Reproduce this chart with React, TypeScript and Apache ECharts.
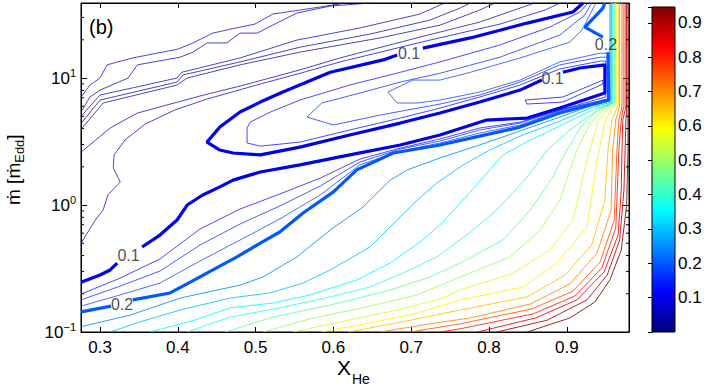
import React, { useEffect, useRef } from "react";
import * as echarts from "echarts";

// ---------- axes ----------
const X_MIN = 0.2755;
const X_MAX = 0.98;
const Y_MIN = 0.1;
const Y_MAX = 39;
const C_MAX = 0.946;
const xTickValues = [0.3, 0.4, 0.5, 0.6, 0.7, 0.8, 0.9];
const yMinorTicks = [0.2, 0.3, 0.4, 0.5, 0.6, 0.7, 0.8, 0.9, 2, 3, 4, 5, 6, 7, 8, 9, 20, 30];
const colorbarTicks = [0.1, 0.2, 0.3, 0.4, 0.5, 0.6, 0.7, 0.8, 0.9];

// ---------- contour lines: [X_He, mdot] ----------
const c010a = [[0.2756, 0.247], [0.3, 0.281], [0.313, 0.308], [0.322, 0.349]];
const c010b = [[0.354, 0.467], [0.377, 0.58], [0.399, 0.762], [0.412, 1.0], [0.432, 1.2], [0.454, 1.39], [0.471, 1.57], [0.506, 1.82], [0.557, 2.07], [0.621, 2.48], [0.686, 2.97], [0.737, 3.56], [0.797, 4.67], [0.849, 4.84], [0.891, 5.8], [0.949, 7.62], [0.949, 12.7], [0.917, 12.0], [0.895, 11.1]];
const c010c = [[0.868, 9.64], [0.84, 8.04], [0.788, 6.47], [0.737, 5.3], [0.686, 4.42], [0.621, 3.56], [0.557, 2.86], [0.506, 2.48], [0.471, 2.57], [0.454, 2.71], [0.4375, 3.13], [0.454, 4.11], [0.48, 5.4], [0.506, 6.47], [0.535, 7.76], [0.596, 11.1], [0.664, 13.9], [0.682, 15.2]];
const c010d = [[0.715, 17.2], [0.776, 20.7], [0.849, 27.1], [0.908, 33.1], [0.921, 39]];
const c0125 = [[0.927, 39], [0.917, 33.1], [0.878, 25.2], [0.814, 18.2], [0.737, 13.4], [0.686, 11.1], [0.621, 8.81], [0.557, 6.71], [0.519, 5.4], [0.493, 4.5], [0.489, 4.04], [0.489, 3.08], [0.506, 2.91], [0.557, 3.13], [0.621, 3.9], [0.686, 4.84], [0.737, 5.8], [0.788, 7.09], [0.84, 8.81], [0.891, 11.8], [0.943, 13.6], [0.95, 13.6], [0.95, 7.09], [0.891, 5.6], [0.84, 4.5], [0.788, 4.04], [0.737, 3.31], [0.686, 2.81], [0.634, 2.3], [0.583, 1.63], [0.531, 1.22], [0.48, 0.93], [0.4285, 0.647], [0.377, 0.376], [0.326, 0.266], [0.2756, 0.199]];
const c0150 = [[0.932, 39], [0.923, 31.3], [0.891, 21.8], [0.814, 14.6], [0.737, 10.9], [0.686, 9.3], [0.634, 7.62], [0.585, 6.36], [0.566, 4.93], [0.6, 4.27], [0.66, 5.11], [0.737, 6.24], [0.788, 7.35], [0.84, 9.3], [0.891, 12.7], [0.943, 14.6], [0.952, 14.6], [0.952, 6.83], [0.891, 5.6], [0.84, 4.42], [0.788, 3.9], [0.737, 3.19], [0.686, 2.76], [0.634, 2.18], [0.583, 1.41], [0.531, 0.982], [0.48, 0.709], [0.4285, 0.484], [0.377, 0.302], [0.326, 0.23], [0.2756, 0.179]];
const c0175 = [[0.9375, 39], [0.9195, 23.9], [0.904, 19.2], [0.84, 14.4], [0.776, 11.1], [0.737, 9.64], [0.702, 9.64], [0.686, 8.65], [0.67, 7.76], [0.682, 6.36], [0.7075, 6.36], [0.737, 6.71], [0.788, 7.76], [0.84, 9.64], [0.891, 13.4], [0.943, 15.7], [0.953, 15.7], [0.953, 6.83], [0.891, 5.5], [0.84, 4.27], [0.788, 3.69], [0.737, 3.08], [0.686, 2.66], [0.634, 2.07], [0.583, 1.2], [0.531, 0.776], [0.48, 0.53], [0.4285, 0.362], [0.377, 0.243], [0.326, 0.196], [0.2756, 0.16]];
const c020a = [[0.2756, 0.144], [0.314, 0.16]];
const c020b = [[0.342, 0.179], [0.39, 0.203], [0.416, 0.247], [0.445, 0.308], [0.476, 0.39], [0.506, 0.502], [0.531, 0.613], [0.561, 0.865], [0.6, 1.27], [0.63, 1.89], [0.677, 2.57], [0.737, 2.97], [0.788, 3.49], [0.84, 4.11], [0.891, 5.3], [0.93, 6.13], [0.954, 6.71], [0.953, 16.0]];
const c020c = [[0.9465, 21.0], [0.9234, 25.2], [0.9465, 35.6], [0.949, 39]];
const c025 = [[0.2756, 0.11], [0.339, 0.136], [0.403, 0.185], [0.48, 0.234], [0.5095, 0.271], [0.553, 0.39], [0.596, 0.636], [0.638, 0.964], [0.673, 1.57], [0.695, 1.89], [0.737, 2.35], [0.788, 2.97], [0.84, 3.83], [0.891, 4.93], [0.93, 6.02], [0.9555, 6.59], [0.9555, 39]];
const c030 = [[0.313, 0.1], [0.351, 0.12], [0.403, 0.149], [0.467, 0.185], [0.5185, 0.203], [0.561, 0.243], [0.596, 0.308], [0.647, 0.467], [0.682, 0.762], [0.7075, 1.09], [0.733, 1.49], [0.767, 2.07], [0.801, 2.71], [0.84, 3.49], [0.891, 4.58], [0.93, 5.8], [0.957, 6.47], [0.957, 39]];
const c035 = [[0.364, 0.1], [0.422, 0.124], [0.467, 0.155], [0.522, 0.169], [0.57, 0.196], [0.63, 0.257], [0.673, 0.349], [0.715, 0.53], [0.741, 0.735], [0.776, 1.27], [0.818, 2.48], [0.853, 3.25], [0.891, 4.19], [0.93, 5.5], [0.958, 6.36], [0.958, 39]];
const c040 = [[0.412, 0.1], [0.467, 0.131], [0.531, 0.155], [0.596, 0.189], [0.647, 0.226], [0.6895, 0.291], [0.733, 0.39], [0.776, 0.613], [0.81, 0.913], [0.849, 1.66], [0.875, 2.71], [0.904, 3.9], [0.936, 5.4], [0.959, 6.36], [0.959, 39]];
const c045 = [[0.461, 0.1], [0.522, 0.131], [0.596, 0.163], [0.673, 0.214], [0.724, 0.271], [0.763, 0.349], [0.818, 0.53], [0.853, 0.913], [0.882, 1.66], [0.9, 2.71], [0.9195, 4.27], [0.943, 5.8], [0.961, 6.47], [0.961, 39]];
const c050 = [[0.5095, 0.1], [0.574, 0.129], [0.638, 0.155], [0.7075, 0.196], [0.763, 0.271], [0.827, 0.39], [0.866, 0.636], [0.891, 1.09], [0.913, 2.71], [0.93, 4.42], [0.949, 5.8], [0.962, 6.47], [0.962, 39]];
const c055 = [[0.548, 0.1], [0.6085, 0.12], [0.682, 0.149], [0.741, 0.185], [0.763, 0.214], [0.831, 0.291], [0.878, 0.442], [0.908, 0.762], [0.926, 2.26], [0.94, 4.5], [0.953, 5.8], [0.963, 6.36], [0.963, 39]];
const c060 = [[0.585, 0.1], [0.647, 0.118], [0.7075, 0.141], [0.763, 0.179], [0.844, 0.226], [0.887, 0.349], [0.926, 0.671], [0.939, 2.26], [0.949, 4.5], [0.958, 5.8], [0.9645, 6.24], [0.9645, 39]];
const c065 = [[0.619, 0.1], [0.682, 0.118], [0.763, 0.149], [0.849, 0.189], [0.898, 0.281], [0.932, 0.484], [0.949, 1.09], [0.953, 2.71], [0.958, 4.67], [0.9645, 5.8], [0.967, 6.13], [0.967, 39]];
const c070 = [[0.66, 0.1], [0.724, 0.116], [0.776, 0.129], [0.853, 0.166], [0.904, 0.239], [0.939, 0.419], [0.957, 0.913], [0.959, 2.71], [0.963, 4.67], [0.967, 5.7], [0.968, 6.02], [0.968, 39]];
const c075 = [[0.6985, 0.1], [0.763, 0.116], [0.855, 0.152], [0.908, 0.21], [0.943, 0.356], [0.961, 0.762], [0.9645, 2.71], [0.967, 4.67], [0.97, 5.6], [0.971, 6.02], [0.971, 39]];
const c080 = [[0.737, 0.1], [0.763, 0.106], [0.857, 0.139], [0.9105, 0.192], [0.945, 0.319], [0.963, 0.659], [0.967, 2.71], [0.97, 4.67], [0.972, 5.6], [0.9735, 5.91], [0.9735, 39]];
const c085 = [[0.785, 0.1], [0.86, 0.129], [0.913, 0.179], [0.948, 0.297], [0.966, 0.58], [0.97, 1.31], [0.971, 2.71], [0.972, 4.67], [0.975, 5.6], [0.976, 5.91], [0.976, 39]];
const c090 = [[0.81, 0.1], [0.875, 0.124], [0.926, 0.179], [0.952, 0.281], [0.968, 0.53], [0.9735, 1.31], [0.975, 2.71], [0.976, 4.67], [0.977, 5.6], [0.977, 39]];
const c095 = [[0.849, 0.1], [0.904, 0.129], [0.936, 0.172], [0.9555, 0.257], [0.97, 0.442], [0.977, 1.0], [0.9787, 2.71], [0.9787, 39]];
// low-value contours in the upper left
const c0075loop = [[0.8463, 6.71], [0.8951, 7.09], [0.9465, 9.64], [0.9465, 8.97], [0.8951, 6.47], [0.8488, 6.24], [0.8463, 6.71]];
const cA = [[0.2756, 7.09], [0.287, 8.81], [0.3, 10], [0.309, 12.7], [0.342, 14.4], [0.4, 16.9], [0.4195, 18.9], [0.445, 22.6], [0.48, 25.2], [0.499, 26.6], [0.522, 31.9], [0.6, 37.6], [0.615, 39]];
const cB = [[0.277, 5.6], [0.287, 7.09], [0.3, 8.04], [0.336, 10], [0.348, 12.7], [0.403, 14.6], [0.4195, 16.0], [0.4375, 18.9], [0.463, 18.9], [0.48, 22.6], [0.502, 22.6], [0.522, 26.1], [0.553, 32.5], [0.596, 36.9], [0.647, 39]];
const cC = [[0.277, 5.11], [0.3, 7.35], [0.399, 10], [0.405, 11.1], [0.48, 14.4], [0.553, 19.9], [0.634, 24.8], [0.711, 31.9], [0.743, 39]];
const cD = [[0.277, 4.5], [0.3, 6.71], [0.399, 9.3], [0.407, 10.6], [0.48, 13.4], [0.557, 17.5], [0.647, 22.2], [0.724, 28.6], [0.763, 35.6], [0.776, 39]];
const cE = [[0.277, 4.04], [0.304, 6.36], [0.399, 8.81], [0.412, 10], [0.48, 12.7], [0.557, 16.0], [0.66, 20.7], [0.737, 26.1], [0.788, 34.3], [0.808, 39]];
const cF = [[0.2756, 2.61], [0.313, 4.04], [0.348, 5.3], [0.4285, 7.22], [0.48, 8.65], [0.557, 11.6], [0.6085, 14.4], [0.711, 21.0], [0.788, 27.6], [0.84, 35.6], [0.859, 39]];
const cG = [[0.2756, 0.502], [0.294, 0.762], [0.304, 0.913], [0.31, 1.2], [0.326, 1.52], [0.317, 1.96], [0.318, 2.48], [0.332, 3.25], [0.358, 4.34], [0.396, 5.6], [0.4375, 6.83], [0.506, 8.97], [0.557, 10.9], [0.6085, 13.4], [0.724, 19.9], [0.814, 26.6], [0.872, 34.3], [0.891, 39]];

// contour label positions [X_He, mdot, level]
const contourLabels = [[0.3366, 0.4, 0.1], [0.6972, 15.7, 0.1], [0.8817, 9.9, 0.1], [0.3283, 0.166, 0.2], [0.9504, 18.4, 0.2]];

const contourLines = [
  { level: 0.025, pts: cD }, { level: 0.025, pts: cE },
  { level: 0.05, pts: cB }, { level: 0.05, pts: cC }, { level: 0.05, pts: cF },
  { level: 0.075, pts: cA }, { level: 0.075, pts: cG }, { level: 0.075, pts: c0075loop },
  { level: 0.95, pts: c095 }, { level: 0.9, pts: c090 }, { level: 0.85, pts: c085 },
  { level: 0.8, pts: c080 }, { level: 0.75, pts: c075 }, { level: 0.7, pts: c070 },
  { level: 0.65, pts: c065 }, { level: 0.6, pts: c060 }, { level: 0.55, pts: c055 },
  { level: 0.5, pts: c050 }, { level: 0.45, pts: c045 }, { level: 0.4, pts: c040 },
  { level: 0.35, pts: c035 }, { level: 0.3, pts: c030 }, { level: 0.25, pts: c025 },
  { level: 0.175, pts: c0175 }, { level: 0.15, pts: c0150 }, { level: 0.125, pts: c0125 },
  { level: 0.2, pts: c020a, thick: true }, { level: 0.2, pts: c020b, thick: true }, { level: 0.2, pts: c020c, thick: true },
  { level: 0.1, pts: c010a, thick: true }, { level: 0.1, pts: c010b, thick: true },
  { level: 0.1, pts: c010c, thick: true }, { level: 0.1, pts: c010d, thick: true },
];

const FONT = "'Liberation Sans', Arial, Helvetica, sans-serif";

function clamp01(v: number) {
  return Math.max(0, Math.min(1, v));
}
function jet(t: number) {
  const x = clamp01(t);
  const r = clamp01(Math.min(4 * x - 1.5, -4 * x + 4.5));
  const g = clamp01(Math.min(4 * x - 0.5, -4 * x + 3.5));
  const b = clamp01(Math.min(4 * x + 0.5, -4 * x + 2.5));
  return `rgb(${Math.round(r * 255)},${Math.round(g * 255)},${Math.round(b * 255)})`;
}

function measure(text: string, size: number) {
  const ctx = document.createElement("canvas").getContext("2d");
  if (!ctx) return text.length * size * 0.55;
  ctx.font = `${size}px ${FONT}`;
  return ctx.measureText(text).width;
}

function buildOption() {
  const fmtX = (v: number) =>
    xTickValues.some((t) => Math.abs(t - v) < 1e-6) ? v.toFixed(1) : "";
  const fmtY = (v: number) => {
    const l = Math.log10(v);
    const e = Math.round(l);
    if (Math.abs(l - e) > 1e-6) return "";
    return "{b|10}{s|" + (e < 0 ? "\u2212" + -e : String(e)) + "}";
  };
  const fmtC = (v: number) =>
    colorbarTicks.some((t) => Math.abs(t - v) < 1e-6) ? v.toFixed(1) : "";

  const tickStyle = { lineStyle: { color: "#000", width: 1 } };

  const lineSeries = contourLines.map((c) => ({
    type: "line",
    xAxisIndex: 0,
    yAxisIndex: 0,
    data: c.pts,
    symbol: "none",
    showSymbol: false,
    silent: true,
    z: c.thick ? 5 : 3,
    lineStyle: {
      color: jet(c.level / C_MAX),
      width: c.thick ? 3.2 : 1,
      opacity: c.thick ? 1 : c.level < 0.2 ? 0.72 : 0.85,
    },
  }));

  const w1 = measure("\u1E41 [\u1E41", 19);
  const w2 = measure("Edd", 13);
  const wX = measure("X", 21);

  return {
    animation: false,
    backgroundColor: "#ffffff",
    grid: [
      { left: 81, top: 3, width: 548, height: 329, show: true, borderColor: "#000", borderWidth: 1, backgroundColor: "transparent" },
      { left: 652, top: 7, width: 23, height: 325, show: false },
    ],
    xAxis: [
      {
        type: "value", gridIndex: 0, min: X_MIN, max: X_MAX, position: "bottom", splitNumber: 7,
        axisLine: { show: true, lineStyle: { color: "#000" } },
        axisTick: { inside: true, length: 5, ...tickStyle },
        axisLabel: { formatter: fmtX, fontSize: 17, color: "#000", fontFamily: FONT, margin: 7, lineHeight: 17 },
        splitLine: { show: false },
      },
      {
        type: "value", gridIndex: 0, min: X_MIN, max: X_MAX, position: "top", splitNumber: 7,
        axisLine: { show: true, lineStyle: { color: "#000" } },
        axisTick: { inside: true, length: 5, ...tickStyle },
        axisLabel: { show: false },
        splitLine: { show: false },
      },
      { type: "value", gridIndex: 1, min: 0, max: 1, show: false },
    ],
    yAxis: [
      {
        type: "log", logBase: 10, gridIndex: 0, min: Y_MIN, max: Y_MAX, position: "left",
        axisLine: { show: true, lineStyle: { color: "#000" } },
        axisTick: { inside: true, length: 6, ...tickStyle },
        axisLabel: {
          formatter: fmtY, margin: 5, color: "#000",
          rich: {
            b: { fontSize: 17, fontFamily: FONT, color: "#000", lineHeight: 22 },
            s: { fontSize: 11, fontFamily: FONT, color: "#000", lineHeight: 12, padding: [0, 0, 11, 0] },
          },
        },
        splitLine: { show: false },
        minorTick: { show: false },
      },
      {
        type: "log", logBase: 10, gridIndex: 0, min: Y_MIN, max: Y_MAX, position: "right",
        axisLine: { show: true, lineStyle: { color: "#000" } },
        axisTick: { inside: true, length: 6, ...tickStyle },
        axisLabel: { show: false },
        splitLine: { show: false },
      },
      {
        type: "value", gridIndex: 1, min: 0, max: C_MAX, interval: 0.1, position: "right",
        axisLine: { show: true, lineStyle: { color: "#000" } },
        axisTick: { inside: true, length: 4, ...tickStyle },
        axisLabel: { formatter: fmtC, fontSize: 17, color: "#000", fontFamily: FONT, margin: 3 },
        splitLine: { show: false },
      },
    ],
    series: [
      ...lineSeries,
      {
        type: "custom",
        xAxisIndex: 0,
        yAxisIndex: 0,
        silent: true,
        clip: false,
        z: 8,
        data: yMinorTicks.map((v) => [X_MIN, v]),
        renderItem: (params: any, api: any) => {
          const pl = api.coord([X_MIN, api.value(1)]);
          const pr = api.coord([X_MAX, api.value(1)]);
          return {
            type: "group",
            children: [
              { type: "line", shape: { x1: pl[0], y1: pl[1], x2: pl[0] + 3, y2: pl[1] }, style: { stroke: "#000", lineWidth: 1 } },
              { type: "line", shape: { x1: pr[0] - 3, y1: pr[1], x2: pr[0], y2: pr[1] }, style: { stroke: "#000", lineWidth: 1 } },
            ],
          };
        },
      },
      {
        type: "scatter",
        xAxisIndex: 0,
        yAxisIndex: 0,
        silent: true,
        z: 10,
        symbolSize: 1,
        itemStyle: { color: "rgba(0,0,0,0)" },
        data: contourLabels,
        label: {
          show: true,
          position: "inside",
          formatter: (p: any) => Number(p.data[2]).toFixed(1),
          fontSize: 16,
          fontFamily: FONT,
          color: "#222",
        },
      },
    ],
    graphic: [
      {
        type: "rect",
        z: 1,
        shape: { x: 652, y: 7, width: 23, height: 325 },
        style: {
          fill: {
            type: "linear", x: 0, y: 1, x2: 0, y2: 0,
            colorStops: [
              { offset: 0, color: "#000080" },
              { offset: 0.125, color: "#0000ff" },
              { offset: 0.375, color: "#00ffff" },
              { offset: 0.625, color: "#ffff00" },
              { offset: 0.875, color: "#ff0000" },
              { offset: 1, color: "#800000" },
            ],
          },
          stroke: "#000",
          lineWidth: 1,
        },
      },
      {
        type: "text", x: 89, y: 27, z: 20,
        style: { text: "(b)", fontSize: 20, fontFamily: FONT, fill: "#000", align: "left", verticalAlign: "middle" },
      },
      {
        type: "text", x: 337, y: 367, z: 20,
        style: { text: "X", fontSize: 21, fontFamily: FONT, fill: "#000", align: "left", verticalAlign: "middle", lineHeight: 17 },
      },
      {
        type: "text", x: 337 + wX + 1, y: 379, z: 20,
        style: { text: "He", fontSize: 14, fontFamily: FONT, fill: "#000", align: "left", verticalAlign: "middle", lineHeight: 12 },
      },
      {
        type: "group", x: 13, y: 205, rotation: Math.PI / 2, z: 20,
        children: [
          { type: "text", x: 0, y: 0, style: { text: "\u1E41 [\u1E41", fontSize: 19, fontFamily: FONT, fill: "#000", align: "left", verticalAlign: "middle" } },
          { type: "text", x: w1, y: 6, style: { text: "Edd", fontSize: 13, fontFamily: FONT, fill: "#000", align: "left", verticalAlign: "middle" } },
          { type: "text", x: w1 + w2, y: 0, style: { text: "]", fontSize: 19, fontFamily: FONT, fill: "#000", align: "left", verticalAlign: "middle" } },
        ],
      },
    ],
  };
}

export default function App() {
  const ref = useRef<HTMLDivElement>(null);
  useEffect(() => {
    document.body.style.margin = "0";
    if (!ref.current) return;
    const chart = echarts.init(ref.current, null, { renderer: "svg" });
    chart.setOption(buildOption() as any);
    return () => {
      chart.dispose();
    };
  }, []);
  return <div ref={ref} style={{ width: 706, height: 386 }} />;
}
